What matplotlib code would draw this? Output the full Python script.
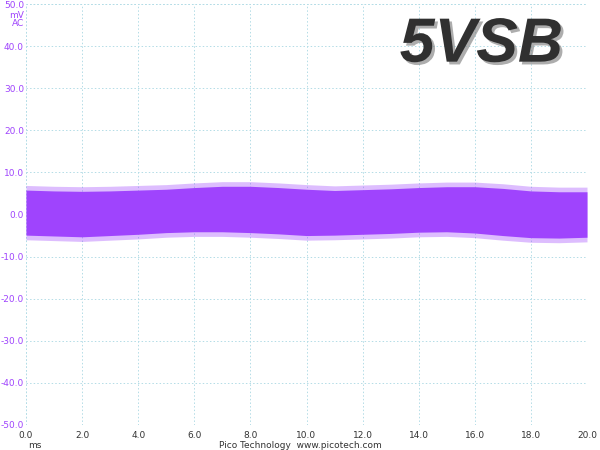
import matplotlib
matplotlib.use("Agg")
from matplotlib import pyplot as plt
import matplotlib.patheffects as pe

# Envelope of the 5VSB ripple trace (mV), read every 1 ms
t_ms = list(range(0, 21))
upper_mv = [5.8, 5.6, 5.5, 5.6, 5.8, 6.0, 6.4, 6.7, 6.7, 6.4, 6.0,
            5.7, 5.9, 6.1, 6.4, 6.6, 6.6, 6.2, 5.6, 5.4, 5.4]
lower_mv = [-4.9, -5.1, -5.3, -5.0, -4.7, -4.3, -4.1, -4.1, -4.3, -4.6, -5.0,
            -4.9, -4.7, -4.5, -4.2, -4.1, -4.4, -5.0, -5.5, -5.6, -5.4]
spike_mv = 1.1  # extra reach of the noisy fringe

x_ticks = [0, 2, 4, 6, 8, 10, 12, 14, 16, 18, 20]
y_ticks = [-50, -40, -30, -20, -10, 0, 10, 20, 30, 40, 50]

purple = "#9f44fd"
grid_col = "#b3dce6"
grid_ls = (0, (1.5, 2.2))

fig = plt.figure(figsize=(6, 4.5), dpi=100)
ax = fig.add_axes([26 / 600, 1 - 425 / 450, 561 / 600, 421 / 450])

# Fringe first, then the solid core
ax.fill_between(t_ms, [u + spike_mv for u in upper_mv],
                [l - spike_mv for l in lower_mv],
                color=purple, alpha=0.35, lw=0)
ax.fill_between(t_ms, upper_mv, lower_mv, color=purple, lw=0)

ax.set_xlim(0, 20)
ax.set_ylim(-50, 50)
ax.set_xticks(x_ticks)
ax.set_yticks(y_ticks)
ax.set_xticklabels(["%.1f" % v for v in x_ticks])
ax.set_yticklabels(["%.1f" % v if v != 50 else "" for v in y_ticks])
ax.tick_params(length=0, labelsize=6.5)
ax.tick_params(axis="y", labelcolor=purple, pad=1.5)
ax.tick_params(axis="x", labelcolor="#333333", pad=4)
ax.grid(True, color=grid_col, linestyle=grid_ls, linewidth=0.7)
ax.set_axisbelow(True)
for s in ax.spines.values():
    s.set_visible(False)
# edge grid lines (top/bottom/left/right)
for y in (-50, 50):
    ax.axhline(y, color=grid_col, linestyle=grid_ls, linewidth=0.7, zorder=0)
for x in (0, 20):
    ax.axvline(x, color=grid_col, linestyle=grid_ls, linewidth=0.7, zorder=0)

# Top-left unit labels
fig.text(24 / 600, 1 - 5 / 450, "50.0", color=purple, fontsize=6.5,
         ha="right", va="center")
fig.text(24 / 600, 1 - 15 / 450, "mV", color=purple, fontsize=6.5,
         ha="right", va="center")
fig.text(24 / 600, 1 - 24 / 450, "AC", color=purple, fontsize=6.5,
         ha="right", va="center")

# Bottom texts
fig.text(28 / 600, 1 - 446 / 450, "ms", color="#333333", fontsize=6.5,
         ha="left", va="center")
fig.text(300 / 600, 1 - 446 / 450, "Pico Technology  www.picotech.com",
         color="#333333", fontsize=6.5, ha="center", va="center")

# Big label
ax.text(19.15, 36.3, "5VSB", fontsize=45, fontweight="bold", fontstyle="italic",
        family="Liberation Sans", color="#303030", ha="right", va="baseline",
        path_effects=[pe.withSimplePatchShadow(offset=(2, -2),
                                               shadow_rgbFace="#777777",
                                               alpha=0.6)])

fig.savefig("out.png", dpi=100)
